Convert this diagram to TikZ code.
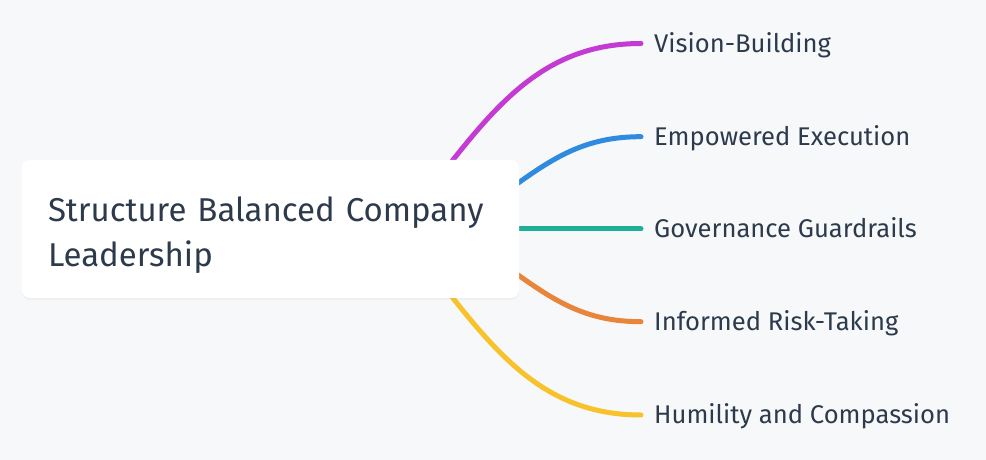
\documentclass[tikz,border=0pt]{standalone}
\usepackage{fontspec}
\setmainfont{Fira Sans}
\usetikzlibrary{shadows}
\definecolor{bgcol}{HTML}{F7F8FA}
\definecolor{inkcol}{HTML}{2D3A4B}
\definecolor{magentacol}{HTML}{C33BD3}
\definecolor{bluecol}{HTML}{2F8BE0}
\definecolor{tealcol}{HTML}{1EAF98}
\definecolor{orangecol}{HTML}{E8853B}
\definecolor{yellowcol}{HTML}{F7C22B}
\pgfdeclarelayer{back}
\pgfdeclarelayer{edges}
\pgfsetlayers{back,edges,main}
\tikzset{
    rootbox/.style={fill=white, rounded corners=8pt, text=inkcol, align=left,
        text width=445pt, inner xsep=26pt, inner ysep=0pt, minimum height=138pt,
        font=\fontsize{33}{45}\selectfont,
        drop shadow={opacity=0.06, shadow xshift=0pt, shadow yshift=-2pt}},
    leaf/.style={anchor=west, text=inkcol, inner xsep=13pt, inner ysep=0pt,
        text height=18pt, text depth=0pt, font=\fontsize{25.6}{30}\selectfont},
    branch/.style={line width=5pt, line cap=round},
}

\begin{document}
\begin{tikzpicture}[x=1pt, y=1pt]
    \useasboundingbox (0,0) rectangle (986,460);
    \begin{pgfonlayer}{back}
        \fill[bgcol] (0,0) rectangle (986,460);
    \end{pgfonlayer}

    % Centre and leaf positions
    \coordinate (C) at (270.5,231);
    \coordinate (L1) at (641,416.5);
    \coordinate (L2) at (641,323.3);
    \coordinate (L3) at (641,231);
    \coordinate (L4) at (641,138.3);
    \coordinate (L5) at (641,45);

    \node[rootbox] (root) at (C) {\rule{0pt}{38pt}Structure Balanced Company\\Leadership};

    \node[leaf] (vision) at (L1) {Vision-Building};
    \node[leaf] (empowered) at (L2) {Empowered Execution};
    \node[leaf] (governance) at (L3) {Governance Guardrails};
    \node[leaf] (risk) at (L4) {Informed Risk-Taking};
    \node[leaf] (humility) at (L5) {Humility and Compassion};

    \begin{pgfonlayer}{edges}
        \draw[branch, magentacol] ([xshift=-74pt,yshift=-10pt]root.north east) to[out=52,in=180] (vision.west);
        \draw[branch, bluecol] ([xshift=-10pt,yshift=39.5pt]root.east) to[out=36,in=180] (empowered.west);
        \draw[branch, tealcol] (root.center) -- (governance.west);
        \draw[branch, orangecol] ([xshift=-10pt,yshift=-39.5pt]root.east) to[out=-36,in=180] (risk.west);
        \draw[branch, yellowcol] ([xshift=-74pt,yshift=10pt]root.south east) to[out=-52,in=180] (humility.west);
    \end{pgfonlayer}
\end{tikzpicture}
\end{document}
